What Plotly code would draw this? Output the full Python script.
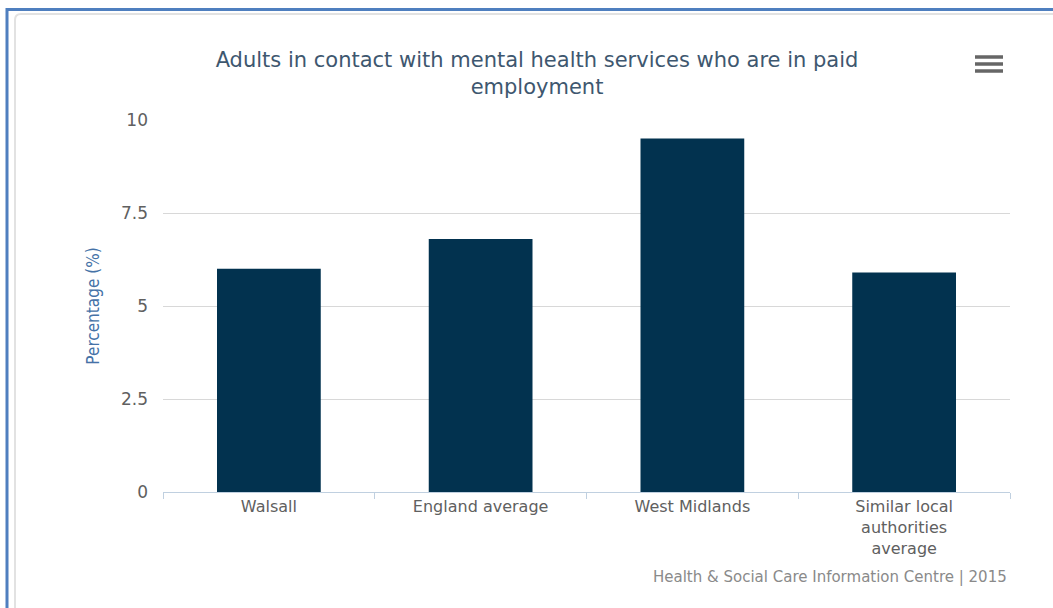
import plotly.graph_objects as go

categories = ["Walsall", "England average", "West Midlands", "Similar local<br>authorities<br>average"]
values = [6.0, 6.8, 9.5, 5.9]
y_ticks = [0, 2.5, 5, 7.5, 10]
y_tick_labels = ["0", "2.5", "5", "7.5", "10"]

W, H = 1053, 608
L, R, T, B = 163, 1010, 120, 492

def px(x):
    return (x - L) / (R - L)

def py(y):
    return (B - y) / (B - T)

fig = go.Figure()
fig.add_trace(go.Bar(
    x=categories, y=values,
    marker=dict(color="#02324F", line=dict(width=0)),
    width=0.49,
    hoverinfo="x+y",
))

shapes = []
# outer blue frame
shapes.append(dict(type="line", xref="paper", yref="paper", x0=px(6), x1=px(1060), y0=py(9.5), y1=py(9.5),
                   line=dict(color="#4F7FBF", width=3)))
shapes.append(dict(type="line", xref="paper", yref="paper", x0=px(7), x1=px(7), y0=py(8), y1=py(615),
                   line=dict(color="#4F7FBF", width=3)))
# inner card (rounded top-left)
r = 6
path = f"M {px(15)} {py(620)} L {px(15)} {py(14 + r)} Q {px(15)} {py(14)} {px(15 + r)} {py(14)} L {px(1060)} {py(14)}"
shapes.append(dict(type="path", xref="paper", yref="paper", path=path,
                   line=dict(color="#E2E2E2", width=2)))
# menu icon
for yy in [57, 64, 71]:
    shapes.append(dict(type="line", xref="paper", yref="paper", x0=px(975), x1=px(1003), y0=py(yy), y1=py(yy),
                       line=dict(color="#666666", width=3.5)))

fig.update_layout(
    width=W, height=H,
    margin=dict(l=L, r=W - R, t=T, b=H - B, autoexpand=False),
    paper_bgcolor="white", plot_bgcolor="white",
    showlegend=False,
    bargap=0.51,
    title=dict(
        text="Adults in contact with mental health services who are in paid<br>employment",
        x=537 / W, xanchor="center", y=1 - 67 / H, yanchor="middle",
        font=dict(family="DejaVu Sans", size=21, color="#3E576F"),
    ),
    font=dict(family="DejaVu Sans"),
    shapes=shapes,
    annotations=[dict(
        text="Health &amp; Social Care Information Centre | 2015",
        xref="paper", yref="paper", x=px(1009), y=py(577), xanchor="right", yanchor="middle",
        showarrow=False, font=dict(family="DejaVu Sans", size=15, color="#8A8A8A"),
    )],
)

fig.update_xaxes(
    showline=True, linecolor="#C0D0E0", linewidth=1,
    ticks="outside", tickson="boundaries", ticklen=6, tickcolor="#C0D0E0",
    tickfont=dict(family="DejaVu Sans", size=16, color="#606060"),
    showgrid=False,
)
fig.update_yaxes(
    range=[0, 10], tickvals=y_ticks, ticktext=y_tick_labels,
    showgrid=True, gridcolor="#D8D8D8", gridwidth=1, zeroline=False,
    ticks="", ticklabelstandoff=14,
    tickfont=dict(family="DejaVu Sans", size=17, color="#606060"),
    title=dict(text="Percentage (%)", standoff=17,
               font=dict(family="DejaVu Sans Condensed, DejaVu Sans", size=17, color="#4572A7")),
    automargin=False,
)

fig.write_html("out.html")
